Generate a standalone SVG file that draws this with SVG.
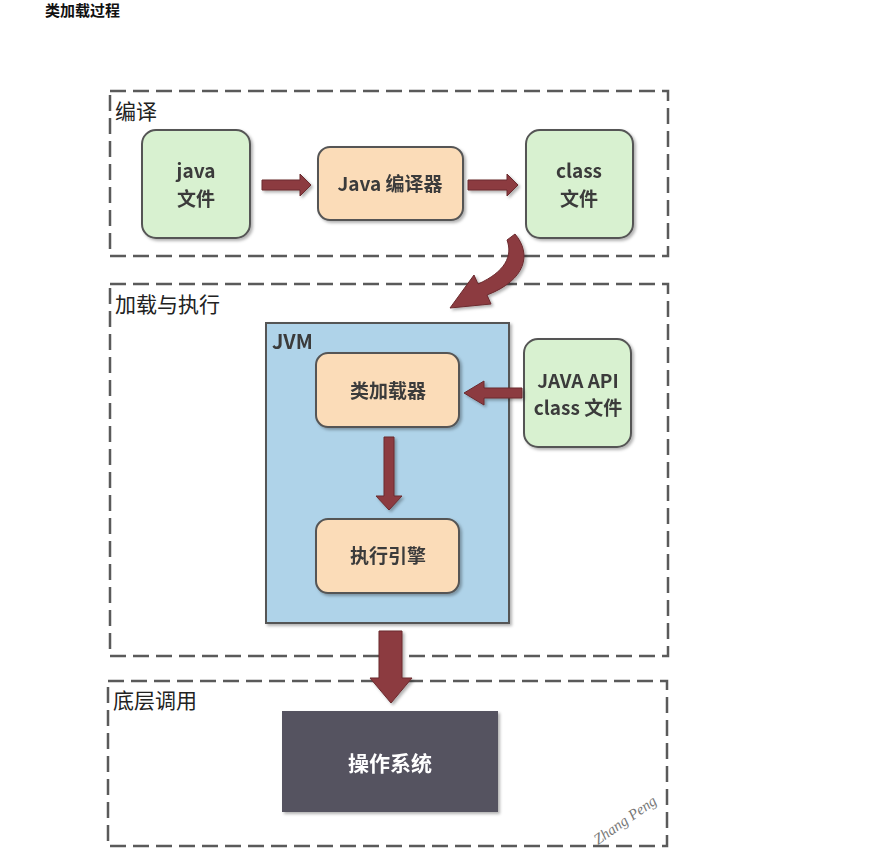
<svg xmlns="http://www.w3.org/2000/svg" width="891" height="866" viewBox="0 0 891 866">
<defs>
<filter id="sh" x="-10%" y="-10%" width="130%" height="130%"><feDropShadow dx="2" dy="2" stdDeviation="1.5" flood-color="#000" flood-opacity="0.3"/></filter>
</defs>
<style>
.grp{fill:none;stroke:#5a5a5a;stroke-width:2.5;stroke-dasharray:16 7;}
.glab{font-family:"Noto Sans CJK SC","Noto Sans",sans-serif;font-size:21px;fill:#222;}
.green{fill:#d8f1d0;stroke:#555;stroke-width:2;}
.orange{fill:#fbdcb8;stroke:#555;stroke-width:2;}
.t{font-family:"Noto Sans CJK SC","Noto Sans",sans-serif;font-size:19px;font-weight:bold;fill:#3b3b3b;text-anchor:middle;}
.arr{fill:#8c3b40;stroke:#6b2a2e;stroke-width:1;}
</style>
<rect width="891" height="866" fill="#fff"/>
<text x="45" y="16" font-family="Noto Sans CJK SC, sans-serif" font-size="15" font-weight="bold" fill="#111">类加载过程</text>

<g id="grp-compile">
<rect class="grp" x="110" y="91" width="558" height="165"/>
<text class="glab" x="115" y="119">编译</text>
</g>
<g id="grp-load">
<rect class="grp" x="110" y="284" width="558" height="372"/>
<text class="glab" x="115" y="312">加载与执行</text>
</g>
<g id="grp-os">
<rect class="grp" x="108" y="681" width="559" height="165"/>
<text class="glab" x="113" y="708">底层调用</text>
</g>

<g id="java-file" filter="url(#sh)">
<rect class="green" x="142" y="130" width="108" height="108" rx="14"/>
<text class="t" x="196" y="178">java</text>
<text class="t" x="196" y="206">文件</text>
</g>
<g id="javac" filter="url(#sh)">
<rect class="orange" x="318" y="147" width="145" height="73" rx="12"/>
<text class="t" x="390" y="191">Java 编译器</text>
</g>
<g id="class-file" filter="url(#sh)">
<rect class="green" x="526" y="130" width="107" height="108" rx="14"/>
<text class="t" x="579" y="178">class</text>
<text class="t" x="579" y="206">文件</text>
</g>

<g id="jvm" filter="url(#sh)">
<rect x="266" y="323" width="243" height="300" fill="#afd3e9" stroke="#555" stroke-width="2"/>
<text x="272" y="349" font-family="Noto Sans CJK SC, sans-serif" font-size="20" font-weight="bold" fill="#3b3b3b">JVM</text>
</g>
<g id="classloader" filter="url(#sh)">
<rect class="orange" x="316" y="353" width="143" height="74" rx="12"/>
<text class="t" x="388" y="398">类加载器</text>
</g>
<g id="engine" filter="url(#sh)">
<rect class="orange" x="316" y="519" width="143" height="74" rx="12"/>
<text class="t" x="388" y="563">执行引擎</text>
</g>
<g id="java-api" filter="url(#sh)">
<rect class="green" x="524" y="339" width="107" height="108" rx="14"/>
<text class="t" x="578" y="388">JAVA API</text>
<text class="t" x="578" y="415">class 文件</text>
</g>
<g id="os" filter="url(#sh)">
<rect x="282" y="711" width="216" height="101" fill="#555261"/>
<text x="390" y="771" font-family="Noto Sans CJK SC, sans-serif" font-size="21" font-weight="bold" fill="#fff" text-anchor="middle">操作系统</text>
</g>

<g id="connectors" filter="url(#sh)">
<polygon class="arr" points="262,180 300,180 300,174 311,185 300,196 300,190 262,190"/>
<polygon class="arr" points="468,180 507,180 507,174 518,185 507,196 507,190 468,190"/>
<path class="arr" d="M515,234 C532,254 526,280 487,295 L491,304 L450,308 L474,275 L478,284 C505,272 513,256 507,240 Z"/>
<polygon class="arr" points="522,388 484,388 484,381 464,393 484,405 484,398 522,398"/>
<polygon class="arr" points="384,437 394,437 394,496 402,496 389,510 376,496 384,496"/>
<polygon class="arr" points="379,631 402,631 402,678 412,678 391,703 370,678 379,678"/>
</g>

<text x="598" y="845" transform="rotate(-35 598 845)" font-family="Liberation Serif, serif" font-style="italic" font-size="15" fill="#777">Zhang Peng</text>
</svg>
